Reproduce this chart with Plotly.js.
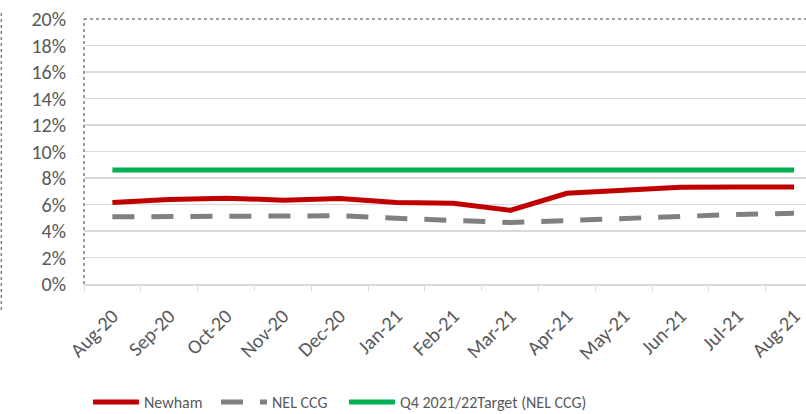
<!DOCTYPE html>
<html>
<head>
<meta charset="utf-8">
<script src="https://cdn.plot.ly/plotly-3.0.1.min.js"></script>
<style>html,body{margin:0;padding:0;background:#fff;}#chart{width:806px;height:414px;}</style>
</head>
<body>
<div id="chart"></div>
<script>
const months = ["Aug-20","Sep-20","Oct-20","Nov-20","Dec-20","Jan-21","Feb-21","Mar-21","Apr-21","May-21","Jun-21","Jul-21","Aug-21"];
const newham = [6.15, 6.37, 6.48, 6.33, 6.45, 6.15, 6.1, 5.56, 6.85, 7.1, 7.3, 7.32, 7.32];
const nelCcg = [5.07, 5.1, 5.14, 5.18, 5.15, 4.96, 4.76, 4.64, 4.79, 4.95, 5.16, 5.25, 5.34];
const target = [8.6, 8.6, 8.6, 8.6, 8.6, 8.6, 8.6, 8.6, 8.6, 8.6, 8.6, 8.6, 8.6];
const yTicks = [0, 2, 4, 6, 8, 10, 12, 14, 16, 18, 20];

const FONT = 'Carlito, "Liberation Sans Narrow", "Liberation Sans", Arial, sans-serif';
const legFont = {family: FONT, size: 16, color: "#595959"};

const traces = [
  {x: months, y: newham, name: "Newham", type: "scatter", mode: "lines", legend: "legend",
   line: {color: "#C00000", width: 5}},
  {x: months, y: nelCcg, name: "NEL CCG", type: "scatter", mode: "lines", legend: "legend2",
   line: {color: "#808080", width: 5, dash: "22px,17px"}},
  {x: months, y: target, name: "Q4 2021/22Target (NEL CCG)", type: "scatter", mode: "lines", legend: "legend3",
   line: {color: "#00B050", width: 5}}
];

function leg(px) {
  return {orientation: "h", xref: "container", yref: "container", x: px / 806, y: 12 / 414,
          xanchor: "left", yanchor: "middle", font: legFont, itemwidth: 46,
          bgcolor: "rgba(0,0,0,0)", borderwidth: 0};
}

const layout = {
  width: 806, height: 414,
  margin: {l: 84, r: 0, t: 19, b: 130},
  paper_bgcolor: "#fff", plot_bgcolor: "#fff",
  font: {family: FONT, size: 20, color: "#595959"},
  showlegend: true,
  legend: leg(88),
  legend2: leg(216),
  legend3: leg(344),
  xaxis: {type: "category", range: [-0.5, 12.21], tickson: "boundaries", ticks: "outside",
          ticklen: 5, tickcolor: "#D9D9D9", showgrid: false, showline: true, linecolor: "#D9D9D9",
          linewidth: 1.5, tickangle: -45, ticklabelstandoff: 11,
          tickfont: {family: FONT, size: 20, color: "#595959"}, fixedrange: true},
  yaxis: {range: [0, 20], tickvals: yTicks, ticktext: yTicks.map(v => v + "%"),
          showgrid: true, gridcolor: "#D9D9D9", gridwidth: 1.5, zeroline: false, showline: false,
          ticks: "", ticklabelstandoff: 17,
          tickfont: {family: FONT, size: 20, color: "#595959"}, fixedrange: true},
  shapes: [
    {type: "line", xref: "paper", yref: "paper", x0: 0, x1: 1, y0: 1, y1: 1,
     line: {color: "#808080", width: 1.5, dash: "dot"}},
    {type: "line", xref: "paper", yref: "paper", x0: 0, x1: 0, y0: 0, y1: 1,
     line: {color: "#808080", width: 1.5, dash: "dot"}},
    {type: "line", xref: "paper", yref: "paper", x0: -0.1145, x1: -0.1145, y0: -0.098, y1: 1.0226,
     line: {color: "#808080", width: 1.5, dash: "dot"}}
  ]
};

Plotly.newPlot("chart", traces, layout, {displayModeBar: false, staticPlot: true});
</script>
</body>
</html>
